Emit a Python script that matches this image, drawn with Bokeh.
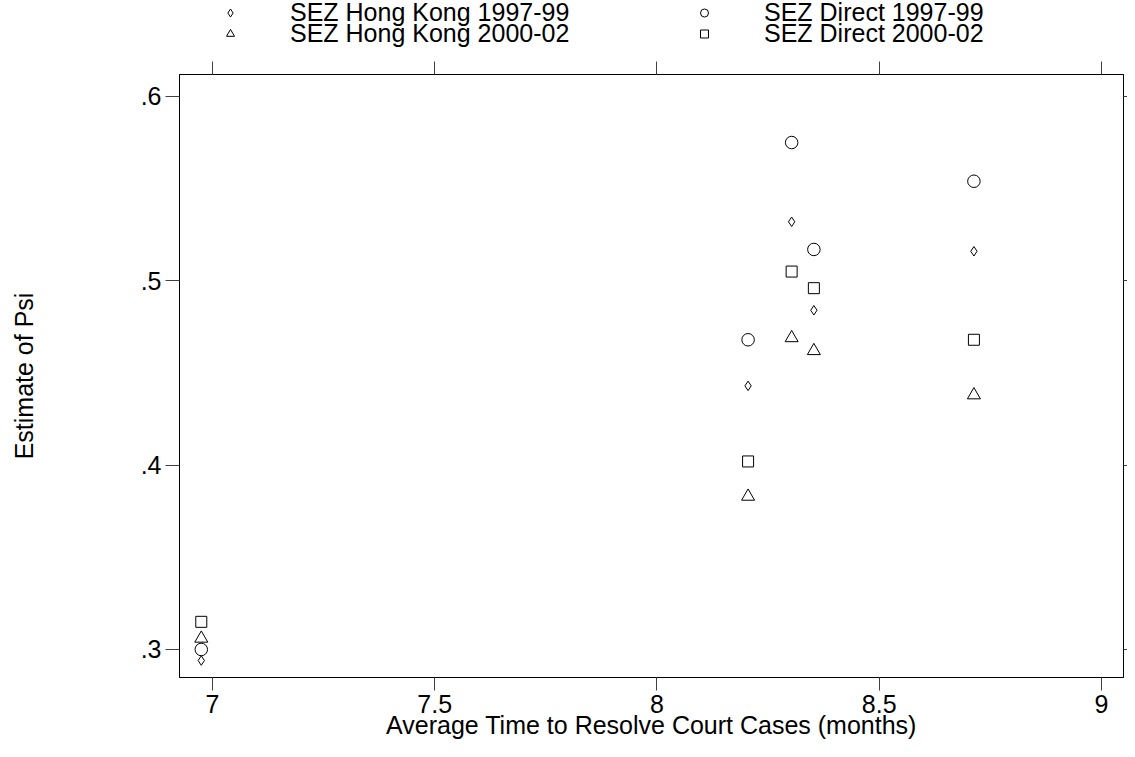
from bokeh.plotting import figure
from bokeh.layouts import column
from bokeh.models import Range1d, FixedTicker, LinearAxis, Legend, LegendItem
from bokeh.embed import file_html
from bokeh.resources import INLINE

# ---- data ----
court_months = [6.975, 8.205, 8.303, 8.353, 8.713]
sez_hk_1997_99 = [0.294, 0.443, 0.532, 0.484, 0.516]
sez_hk_2000_02 = [0.306, 0.383, 0.469, 0.462, 0.438]
sez_direct_1997_99 = [0.300, 0.468, 0.575, 0.517, 0.554]
sez_direct_2000_02 = [0.315, 0.402, 0.505, 0.496, 0.468]

series_labels = ["SEZ Hong Kong 1997-99", "SEZ Hong Kong 2000-02",
                 "SEZ Direct 1997-99", "SEZ Direct 2000-02"]

x_ticks = [7, 7.5, 8, 8.5, 9]
x_tick_labels = ["7", "7.5", "8", "8.5", "9"]
y_ticks = [0.3, 0.4, 0.5, 0.6]
y_tick_labels = [".3", ".4", ".5", ".6"]

x_title = "Average Time to Resolve Court Cases (months)"
y_title = "Estimate of Psi"

FONT = "Liberation Sans"
FS = "25px"
TICK_COLOR = "#404040"
W = 1127
LEG_H = 61
MAIN_H = 680

# marker styles per series
styles = [
    dict(marker="diamond", size=9.5),
    dict(marker="triangle", size=13),
    dict(marker="circle", size=12.5),
    dict(marker="square", size=11),
]
series_values = [sez_hk_1997_99, sez_hk_2000_02, sez_direct_1997_99, sez_direct_2000_02]

# ================= main plot =================
p = figure(
    width=W, height=MAIN_H,
    min_border_left=179, min_border_right=4, min_border_top=13, min_border_bottom=63,
    x_range=Range1d(6.926, 9.0495), y_range=Range1d(0.2848, 0.6119),
    output_backend="svg", toolbar_location=None,
    background_fill_color="white", border_fill_color="white",
)
p.grid.visible = False
p.outline_line_color = "black"
p.outline_line_width = 1

xa = p.xaxis[0]
xa.ticker = FixedTicker(ticks=x_ticks)
xa.major_label_overrides = {t: l for t, l in zip(x_ticks, x_tick_labels)}
xa.axis_label = x_title
xa.major_tick_out = 13
xa.major_tick_in = 0
xa.minor_tick_out = 0
xa.minor_tick_in = 0
xa.major_label_standoff = 4
xa.axis_label_standoff = -5

ya = p.yaxis[0]
ya.ticker = FixedTicker(ticks=y_ticks)
ya.major_label_overrides = {t: l for t, l in zip(y_ticks, y_tick_labels)}
ya.axis_label = y_title
ya.major_tick_out = 14
ya.major_tick_in = 0
ya.minor_tick_out = 0
ya.minor_tick_in = 0
ya.major_label_standoff = 4
ya.axis_label_standoff = 100

for ax in (xa, ya):
    ax.axis_line_color = "black"
    ax.major_tick_line_color = TICK_COLOR
    ax.major_label_text_font = FONT
    ax.major_label_text_font_size = FS
    ax.major_label_text_color = "black"
    ax.axis_label_text_font = FONT
    ax.axis_label_text_font_size = FS
    ax.axis_label_text_font_style = "normal"
    ax.axis_label_text_color = "black"

top_axis = LinearAxis(
    ticker=FixedTicker(ticks=x_ticks),
    major_label_overrides={t: "" for t in x_ticks},
    major_label_text_font_size="0px", major_label_standoff=0,
    major_tick_out=13, major_tick_in=0, minor_tick_out=0, minor_tick_in=0,
    axis_line_color="black", major_tick_line_color=TICK_COLOR,
)
p.add_layout(top_axis, "above")
right_axis = LinearAxis(
    ticker=FixedTicker(ticks=y_ticks),
    major_label_overrides={t: "" for t in y_ticks},
    major_label_text_font_size="0px", major_label_standoff=0,
    major_tick_out=4, major_tick_in=0, minor_tick_out=0, minor_tick_in=0,
    axis_line_color="black", major_tick_line_color=TICK_COLOR,
)
p.add_layout(right_axis, "right")

for vals, st in zip(series_values, styles):
    p.scatter(court_months, vals, fill_color=None, line_color="black", line_width=1, **st)

# ================= legend strip above the plot =================
lf = figure(
    width=W, height=LEG_H,
    min_border_left=0, min_border_right=0, min_border_top=0, min_border_bottom=0,
    x_range=Range1d(0, 1), y_range=Range1d(0, 1),
    x_axis_location=None, y_axis_location=None,
    output_backend="svg", toolbar_location=None,
    background_fill_color="white", border_fill_color="white",
)
lf.grid.visible = False
lf.outline_line_color = None

# proxy renderers (same series, outside this strip's ranges) for the legend keys
proxies = [lf.scatter(court_months, vals, fill_color=None, line_color="black",
                      line_width=1, **st)
           for vals, st in zip(series_values, styles)]

ITEM_H = 29


def add_row(idx_pair, row_top):
    vy = LEG_H - row_top - ITEM_H
    leg = Legend(
        items=[LegendItem(label=series_labels[i], renderers=[proxies[i]]) for i in idx_pair],
        location=(41, vy), orientation="horizontal",
        padding=0, margin=0, spacing=0,
        border_line_color=None, background_fill_alpha=0,
        glyph_width=20, glyph_height=ITEM_H, label_height=ITEM_H, label_width=404,
        label_standoff=50,
        label_text_font=FONT, label_text_font_size=FS, label_text_color="black",
    )
    lf.add_layout(leg)


add_row((0, 2), -2)
add_row((1, 3), 19)

layout = column(lf, p, spacing=0)
open("out.html", "w").write(file_html(layout, INLINE))
